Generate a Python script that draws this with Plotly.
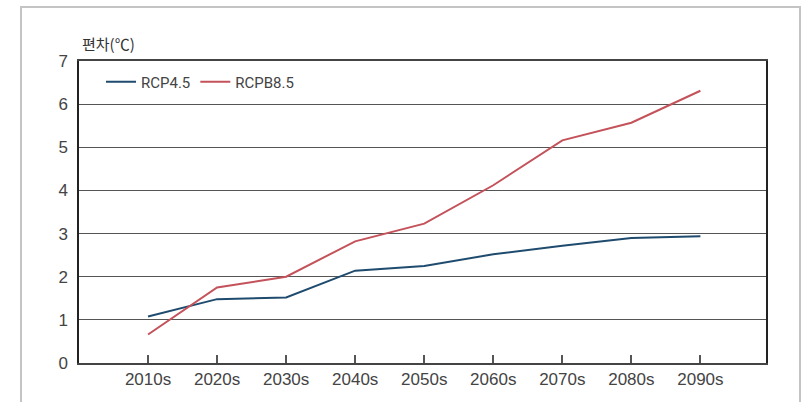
import plotly.graph_objects as go

categories = ["2010s", "2020s", "2030s", "2040s", "2050s", "2060s", "2070s", "2080s", "2090s"]
rcp45 = [1.08, 1.48, 1.52, 2.14, 2.25, 2.52, 2.72, 2.90, 2.94]
rcp85 = [0.66, 1.75, 2.00, 2.82, 3.23, 4.12, 5.16, 5.57, 6.31]
series_names = ["RCP4.5", "RCPB8.5"]
series_colors = ["#1f4b6e", "#c4525a"]
y_title = "편차(℃)"

W, H = 808, 402
pl, pr, pt, pb = 79, 766, 61, 363

fig = go.Figure()
for name, vals, col in zip(series_names, [rcp45, rcp85], series_colors):
    fig.add_trace(go.Scatter(x=categories, y=vals, mode="lines", name=name,
                             line=dict(color=col, width=2)))

tick_font = dict(family="Liberation Sans, Arial, sans-serif", size=17, color="#444444")

fig.update_layout(
    width=W, height=H,
    margin=dict(l=0, r=0, t=0, b=0, autoexpand=False),
    paper_bgcolor="white", plot_bgcolor="white",
    showlegend=True,
    legend=dict(orientation="h", x=101 / W, y=1 - 82 / H, xanchor="left", yanchor="middle",
                font=dict(family="Liberation Sans Narrow, Arial Narrow, Roboto, sans-serif", size=15, color="#444444"),
                bgcolor="rgba(0,0,0,0)",
                itemwidth=30, tracegroupgap=0),
    xaxis=dict(domain=[pl / W, pr / W], type="category", range=[-1, 8.95],
               showgrid=False, showline=True, linecolor="#444444", linewidth=2, mirror=True,
               ticks="inside", ticklen=8, tickcolor="#555555", tickwidth=1.5,
               tickfont=tick_font, zeroline=False, fixedrange=True),
    yaxis=dict(domain=[1 - pb / H, 1 - pt / H], range=[0, 7], dtick=1, tick0=0,
               showgrid=True, gridcolor="#555555", gridwidth=1,
               showline=True, linecolor="#222222", linewidth=1.5, mirror=True,
               ticks="", tickfont=tick_font, ticklabelstandoff=6, zeroline=False, fixedrange=True),
    annotations=[dict(text=y_title, xref="paper", yref="paper", x=80 / W, y=1 - 44 / H,
                      xanchor="left", yanchor="middle", showarrow=False,
                      font=dict(family="Noto Sans CJK KR, sans-serif", size=15, color="#333333"))],
    shapes=[dict(type="rect", xref="paper", yref="paper", x0=21 / W, x1=800 / W,
                 y0=-0.05, y1=1 - 7 / H, line=dict(color="#c4c4c4", width=2), layer="below")],
)

fig.write_html("out.html", config={"displayModeBar": False},
               post_script="document.body.style.margin='0px';document.body.style.padding='0px';")
